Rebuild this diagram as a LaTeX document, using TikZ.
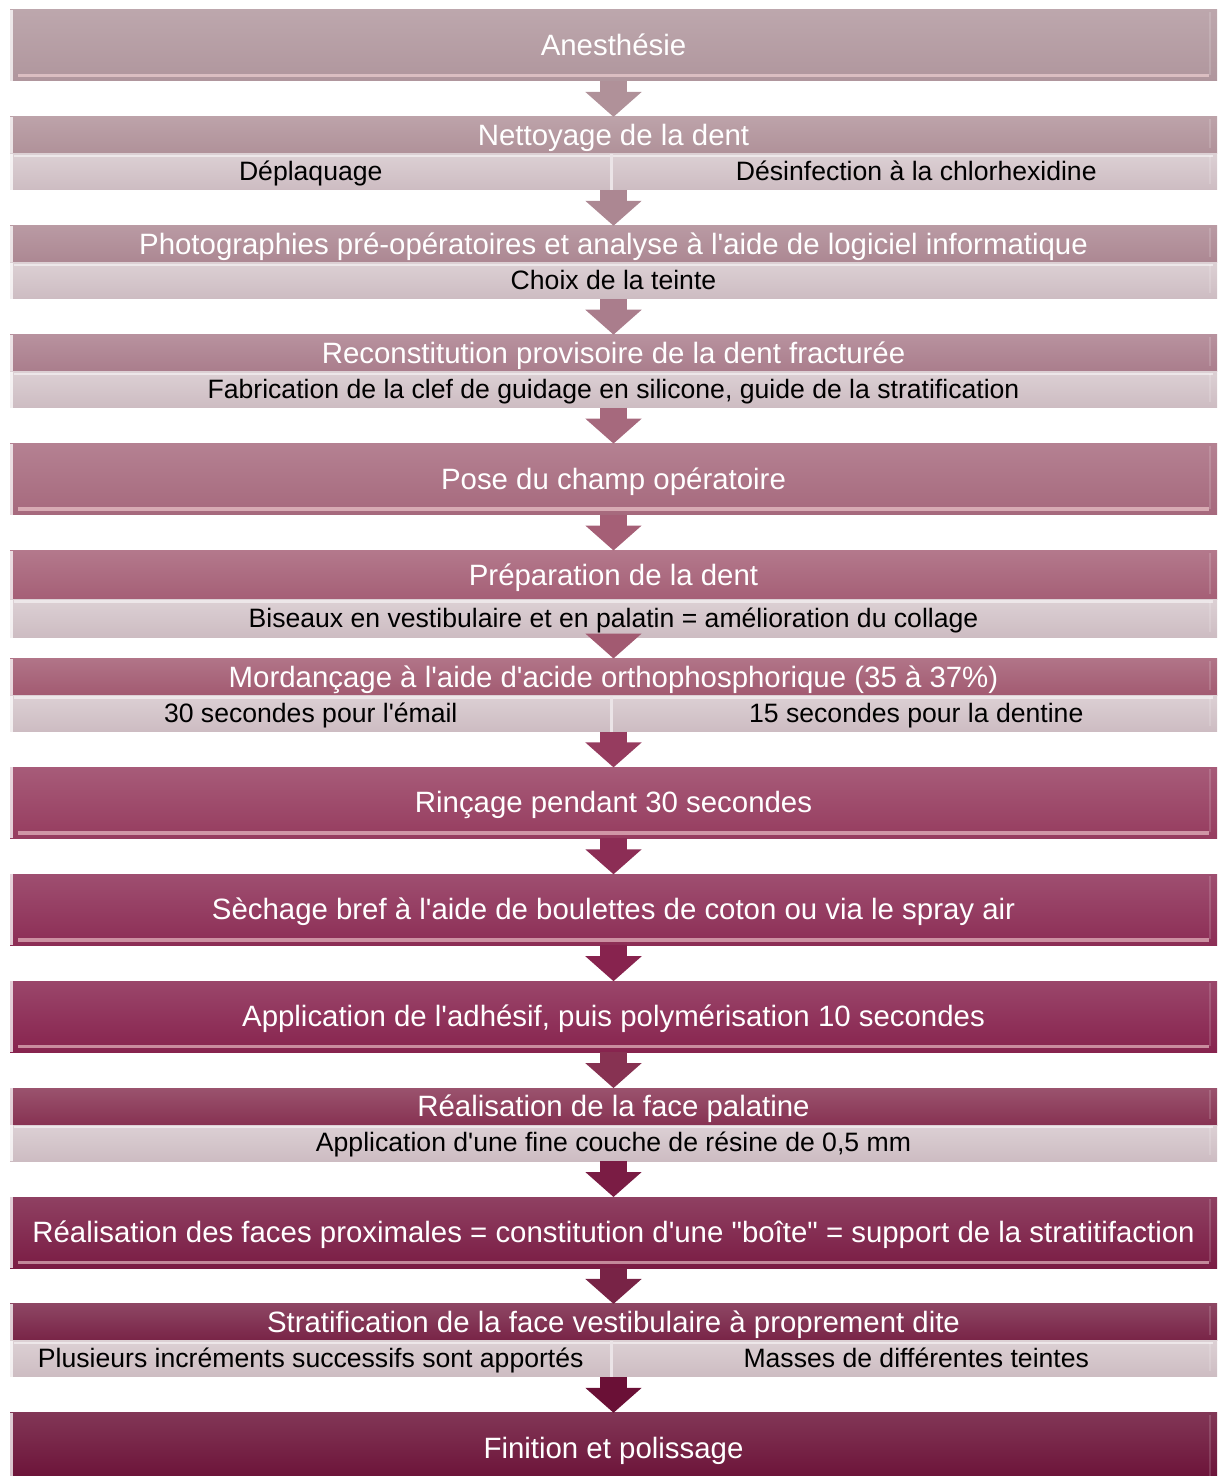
\documentclass[tikz,border=0pt]{standalone}
\usepackage{fontspec}
\newfontfamily\flowfont{Liberation Sans}
\usetikzlibrary{positioning,arrows.meta}
% box colours, light mauve at the top to dark wine at the bottom
\definecolor{c1}{HTML}{B0969D}
\definecolor{c2}{HTML}{B09199}
\definecolor{c3}{HTML}{AC8792}
\definecolor{c4}{HTML}{AA7D8C}
\definecolor{c5}{HTML}{A6697D}
\definecolor{c6}{HTML}{A55F76}
\definecolor{c7}{HTML}{A25A71}
\definecolor{c8}{HTML}{963C5F}
\definecolor{c9}{HTML}{8C2D55}
\definecolor{c10}{HTML}{87234E}
\definecolor{c11}{HTML}{873252}
\definecolor{c12}{HTML}{7A1C44}
\definecolor{c13}{HTML}{782346}
\definecolor{c14}{HTML}{6A1036}
\definecolor{subtop}{HTML}{DCD0D4}
\definecolor{subbot}{HTML}{CDBCC2}

% white left edge and faint right edge of a bar
\newcommand\baredges{%
  \fill[white, opacity=.75] (path picture bounding box.south west)
    rectangle ([xshift=1.5pt]path picture bounding box.north west);
  \draw[white, opacity=.15, line width=1pt]
    ([xshift=-3.5pt,yshift=3pt]path picture bounding box.south east) --
    ([xshift=-3.5pt,yshift=-1pt]path picture bounding box.north east);}

\begin{document}
\begin{tikzpicture}[x=0.5pt, y=-0.5pt,
    node distance=17.95pt,
    bevel/.style={path picture={\baredges}},
    % light band along the bottom of a full box
    shine/.style={path picture={\baredges
      \draw[white!50!pink, opacity=.55, line width=1.8pt]
        ([xshift=4pt,yshift=2.8pt]path picture bounding box.south west) --
        ([xshift=-4pt,yshift=2.8pt]path picture bounding box.south east);}},
    % light band along the top of a sub row
    gloss/.style={path picture={\baredges
      \draw[white, opacity=.5, line width=1.2pt]
        ([xshift=2pt,yshift=-1pt]path picture bounding box.north west) --
        ([xshift=-2pt,yshift=-1pt]path picture bounding box.north east);}},
    stepbox/.style={rectangle, inner sep=0pt, outer sep=0pt, minimum width=603.5pt,
      minimum height=18.5pt, top color=#1!84!white, bottom color=#1, text=white,
      font=\flowfont\fontsize{14.7}{16}\selectfont, text height=11.8pt, text depth=1.8pt, bevel},
    tallbox/.style={stepbox=#1, minimum height=35.5pt, shine},
    subrow/.style={rectangle, inner sep=0pt, outer sep=0pt, minimum width=603.5pt,
      minimum height=18pt, top color=subtop, bottom color=subbot, text=black,
      font=\flowfont\fontsize{13.3}{15}\selectfont, text height=10.5pt, text depth=2pt,
      gloss},
    half/.style={rectangle, inner sep=0pt, outer sep=0pt, minimum width=300.75pt,
      minimum height=18pt, text=black, font=\flowfont\fontsize{13.3}{15}\selectfont,
      text height=10.5pt, text depth=2pt},
    split/.style={white!60!subbot, line width=1.5pt},
    flow/.style={draw=#1, line width=13.5pt, -{Triangle[length=12.5pt,width=27.5pt]}}
  ]
    \useasboundingbox (0,0) rectangle (1218,1476);

    \node[tallbox=c1] (s1) at (613.5,45.5) {Anesthésie};

    \node[stepbox=c2, below=of s1] (s2) {Nettoyage de la dent};
    \node[subrow, below=0pt of s2] (d2) {};
    \node[half, anchor=west] (d2a) at (d2.west) {Déplaquage};
    \node[half, anchor=east] (d2b) at (d2.east) {Désinfection à la chlorhexidine};
    \draw[split] (d2a.north east) -- (d2a.south east);

    \node[stepbox=c3, below=of d2] (s3) {Photographies pré-opératoires et analyse à l'aide de logiciel informatique};
    \node[subrow, below=0pt of s3] (d3) {Choix de la teinte};

    \node[stepbox=c4, below=of d3] (s4) {Reconstitution provisoire de la dent fracturée};
    \node[subrow, below=0pt of s4] (d4) {Fabrication de la clef de guidage en silicone, guide de la stratification};

    \node[tallbox=c5, below=of d4] (s5) {Pose du champ opératoire};

    \node[stepbox=c6, minimum height=24.5pt, below=of s5] (s6) {Préparation de la dent};
    \node[subrow, minimum height=19pt, below=0pt of s6] (d6) {Biseaux en vestibulaire et en palatin = amélioration du collage};

    \node[stepbox=c7, below=10.5pt of d6] (s7) {Mordançage à l'aide d'acide orthophosphorique (35 à 37\%)};
    \node[subrow, below=0pt of s7] (d7) {};
    \node[half, anchor=west] (d7a) at (d7.west) {30 secondes pour l'émail};
    \node[half, anchor=east] (d7b) at (d7.east) {15 secondes pour la dentine};
    \draw[split] (d7a.north east) -- (d7a.south east);

    \node[tallbox=c8, below=of d7] (s8) {Rinçage pendant 30 secondes};
    \node[tallbox=c9, below=of s8] (s9) {Sèchage bref à l'aide de boulettes de coton ou via le spray air};
    \node[tallbox=c10, below=of s9] (s10) {Application de l'adhésif, puis polymérisation 10 secondes};

    \node[stepbox=c11, below=of s10] (s11) {Réalisation de la face palatine};
    \node[subrow, below=0pt of s11] (d11) {Application d'une fine couche de résine de 0,5 mm};

    \node[tallbox=c12, below=of d11] (s12) {Réalisation des faces proximales = constitution d'une "boîte" = support de la stratitifaction};

    \node[stepbox=c13, below=of s12] (s13) {Stratification de la face vestibulaire à proprement dite};
    \node[subrow, below=0pt of s13] (d13) {};
    \node[half, anchor=west] (d13a) at (d13.west) {Plusieurs incréments successifs sont apportés};
    \node[half, anchor=east] (d13b) at (d13.east) {Masses de différentes teintes};
    \draw[split] (d13a.north east) -- (d13a.south east);

    \node[tallbox=c14, below=of d13] (s14) {Finition et polissage};

    % down arrows between the steps
    \draw[flow=c2] (s1.south) -- (s2.north);
    \draw[flow=c3] (d2.south) -- (s3.north);
    \draw[flow=c4] (d3.south) -- (s4.north);
    \draw[flow=c5] (d4.south) -- (s5.north);
    \draw[flow=c6] (s5.south) -- (s6.north);
    \draw[flow=c7] (d6.south) -- (s7.north);
    \draw[flow=c8] (d7.south) -- (s8.north);
    \draw[flow=c9] (s8.south) -- (s9.north);
    \draw[flow=c10] (s9.south) -- (s10.north);
    \draw[flow=c11] (s10.south) -- (s11.north);
    \draw[flow=c12] (d11.south) -- (s12.north);
    \draw[flow=c13] (s12.south) -- (s13.north);
    \draw[flow=c14] (d13.south) -- (s14.north);
  \end{tikzpicture}
\end{document}
